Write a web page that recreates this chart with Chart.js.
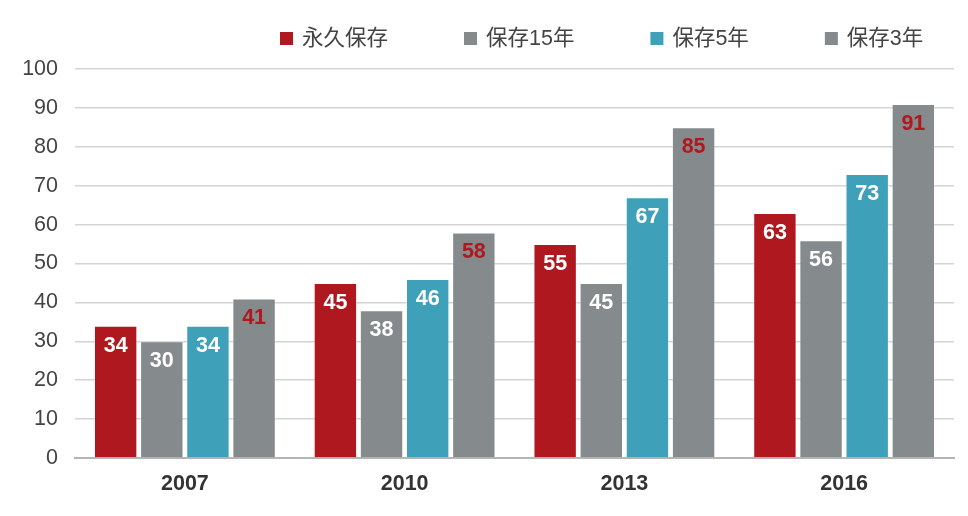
<!DOCTYPE html>
<html>
<head>
<meta charset="utf-8">
<script src="https://cdn.jsdelivr.net/npm/chart.js@4"></script>
<style>
  html, body { margin: 0; padding: 0; background: #fff; }
  #wrap { width: 968px; height: 516px; }
</style>
</head>
<body>
<div id="wrap"><canvas id="myChart" width="968" height="516"></canvas></div>
<script>
// categories and series
const years = ['2007', '2010', '2013', '2016']
const forever = [34, 45, 55, 63]
const keep15 = [30, 38, 45, 56]
const keep5 = [34, 46, 67, 73]
const keep3 = [41, 58, 85, 91]
const yTicks = [0, 10, 20, 30, 40, 50, 60, 70, 80, 90, 100]

const RED = '#b0181f'
const GRAY = '#858a8c'
const TEAL = '#3ea1b9'
const FONT = '"Liberation Sans", Arial, "Noto Sans CJK SC", sans-serif'

// value labels drawn inside the top of each bar
const barLabels = {
  id: 'barLabels',
  afterDatasetsDraw(chart) {
    const ctx = chart.ctx
    ctx.save()
    ctx.font = 'bold 21.5px ' + FONT
    ctx.textAlign = 'center'
    ctx.textBaseline = 'middle'
    chart.data.datasets.forEach(function (ds, i) {
      const meta = chart.getDatasetMeta(i)
      meta.data.forEach(function (bar, j) {
        ctx.fillStyle = ds.labelColor
        ctx.fillText(ds.data[j], bar.x, bar.y + 20)
      })
    })
    ctx.restore()
  }
}

// legend drawn by hand so the wide gaps don't blow up its height
const topLegend = {
  id: 'topLegend',
  afterDraw(chart) {
    const ctx = chart.ctx
    ctx.save()
    ctx.font = '21.5px ' + FONT
    ctx.textBaseline = 'middle'
    ctx.textAlign = 'left'
    let x = 280
    const y = 38
    chart.data.datasets.forEach(function (ds) {
      ctx.fillStyle = ds.backgroundColor
      ctx.fillRect(x, y - 6, 13, 13)
      ctx.fillStyle = '#444'
      ctx.fillText(ds.label, x + 22, y + 1)
      x += 22 + ctx.measureText(ds.label).width + 76
    })
    ctx.restore()
  }
}

function makeSet(label, data, color, labelColor) {
  return {
    label: label,
    data: data,
    backgroundColor: color,
    borderColor: 'rgba(255,255,255,0.35)',
    borderWidth: 1,
    labelColor: labelColor
  }
}

var ctx = document.getElementById('myChart').getContext('2d')
var chart = new Chart(ctx, {
  type: 'bar',
  data: {
    labels: years,
    datasets: [
      makeSet('永久保存', forever, RED, '#ffffff'),
      makeSet('保存15年', keep15, GRAY, '#ffffff'),
      makeSet('保存5年', keep5, TEAL, '#ffffff'),
      makeSet('保存3年', keep3, GRAY, RED)
    ]
  },
  options: {
    responsive: false,
    animation: false,
    devicePixelRatio: 1,
    datasets: {
      bar: { categoryPercentage: 0.84, barPercentage: 0.94 }
    },
    layout: { padding: { left: 0, right: 14, top: 69, bottom: 0 } },
    plugins: {
      legend: { display: false },
      tooltip: { enabled: false }
    },
    scales: {
      x: {
        grid: { display: false },
        border: { color: '#b5b5b5', width: 2 },
        ticks: { color: '#333', padding: 5, font: { family: FONT, size: 21.5, weight: 'bold' } },
        afterFit: function (s) { s.height = 58 }
      },
      y: {
        min: 0,
        max: 100,
        afterBuildTicks: function (s) { s.ticks = yTicks.map(function (v) { return { value: v } }) },
        grid: { color: '#d4d4d4', lineWidth: 1.5, drawTicks: false },
        border: { display: false },
        ticks: { color: '#444', padding: 17, font: { family: FONT, size: 21.5 } },
        afterFit: function (s) { s.width = 75 }
      }
    }
  },
  plugins: [barLabels, topLegend]
})
</script>
</body>
</html>
